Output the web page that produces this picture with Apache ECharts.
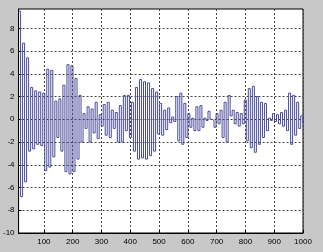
<!DOCTYPE html>
<html><head><meta charset="utf-8">
<script src="https://cdn.jsdelivr.net/npm/echarts@6/dist/echarts.min.js"></script>
<style>html,body{margin:0;padding:0;background:#c8c8c8;}#c{width:323px;height:252px;}</style>
</head><body><div id="c"></div>
<script>
// stairs signal: level values held for one step each
const startX = 12;
const stepX = 7;
const endX = 1000;
const levels = [
 9.5,-6.8, 6.7,-5.5, 5.4,-2.8, 2.8,-2.6, 2.5,-2.2,
 2.4,-2.3, 2.3,-4.5, 4.4,-4.2, 4.3,-3.3, 1.6,-1.6,
 1.8,-2.8, 3.0,-4.6, 4.8,-4.8, 4.7,-4.6, 3.6,-3.5,
 2.1,-2.0, 0.5,-0.8, 1.1,-2.0, 0.9,-1.2, 1.5,-1.7,
 0.4,-0.6, 1.3,-1.4, 1.5,-1.6, 0.8,-0.8, 0.6,-2.0,
 1.2,-2.0, 2.1,-1.0, 2.1,-1.6, 1.5,-2.8, 2.8,-3.5,
 3.5,-3.4, 3.3,-3.5, 3.2,-3.2, 2.7,-2.8, 2.4,-1.3,
 1.4,-1.4, 0.8,-0.9, 1.0,-0.3, 0.2,-0.2, 2.0,-1.9,
 2.3,-2.2, 1.4,-1.6, 0.5,-0.7, 0.1,-1.0, 1.1,-1.0,
 1.2,-0.7, 0.1,-0.1, 0.7, 0.0,-0.1,-0.7, 0.5,-0.4,
 0.8,-1.6, 1.5,-2.0, 2.1, 0.3, 0.8,-0.4, 0.6,-0.6,
 0.5,-0.4, 1.7,-1.9, 2.7,-2.5, 2.9,-2.9, 2.0,-2.2,
 1.5,-1.6, 1.4,-1.0, 0.1,-0.1, 0.5,-0.2, 0.4,-0.4,
 0.6,-0.6, 0.8,-1.0, 2.3,-2.2, 2.1,-1.4, 1.5,-0.8,
 0.3,-0.3
];
const xTicks = [100,200,300,400,500,600,700,800,900,1000];
const yTicks = [-10,-8,-6,-4,-2,0,2,4,6,8];
const yMin = -10, yMax = 9.7;

const pts = levels.map((v,i)=>[startX + i*stepX, v]);
pts.push([endX, levels[levels.length-1]]);

const chart = echarts.init(document.getElementById('c'), null, {renderer:'canvas'});
const gridLine = {show:true, lineStyle:{color:'#444', type:[2,2], width:1}};
const fmt = v => String(v);
chart.setOption({
  animation:false,
  backgroundColor:'#c8c8c8',
  grid:{left:16, right:20, top:9, bottom:19, show:true, backgroundColor:'#fff', borderColor:'#000', borderWidth:1},
  xAxis:{type:'value', min:startX, max:endX,
    axisLine:{show:true, onZero:false, lineStyle:{color:'#000'}},
    axisTick:{show:true, inside:true, length:3, customValues:xTicks, lineStyle:{color:'#000'}},
    axisLabel:{customValues:xTicks, formatter:fmt, color:'#000', fontSize:8, fontFamily:'Liberation Sans, Arial, sans-serif', margin:5},
    splitLine:gridLine},
  yAxis:{type:'value', min:yMin, max:yMax,
    axisLine:{show:true, lineStyle:{color:'#000'}},
    axisTick:{show:true, inside:true, length:3, customValues:yTicks, lineStyle:{color:'#000'}},
    axisLabel:{customValues:yTicks, formatter:fmt, color:'#000', fontSize:8, fontFamily:'Liberation Sans, Arial, sans-serif', margin:4},
    splitLine:gridLine},
  series:[{type:'line', step:'end', data:pts, showSymbol:false, symbol:'none',
    lineStyle:{color:'#4a4a9c', width:1}, clip:true}]
});
</script></body></html>
